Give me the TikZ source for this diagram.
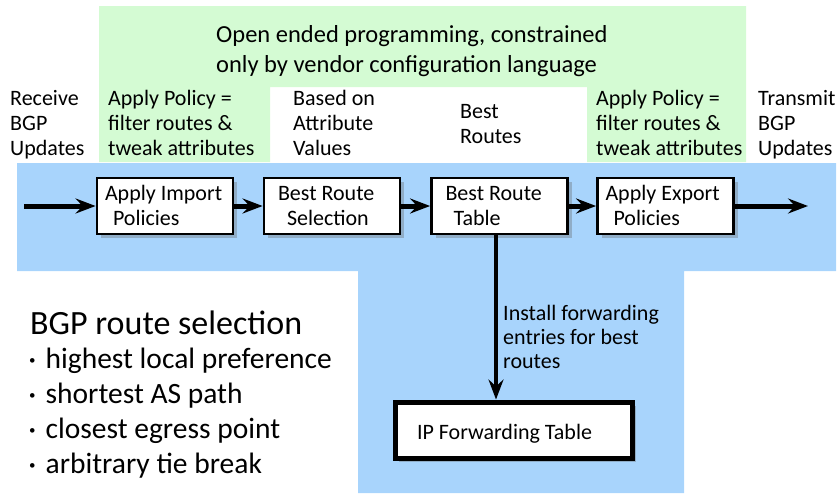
\documentclass[tikz,border=0pt]{standalone}
\usepackage{fontspec}
\setmainfont{Carlito}
\usetikzlibrary{arrows.meta,shadows}

\definecolor{polgreen}{RGB}{212,251,211}
\definecolor{flowblue}{RGB}{168,212,252}

% small bullet used in the criteria list
\newcommand{\critdot}{\raisebox{3.5pt}{\fontsize{13}{13}\selectfont •}\hspace{10pt}}

\begin{document}
\begin{tikzpicture}[x=1pt,y=-1pt,
  txt/.style={anchor=base west, align=left, inner sep=0pt,
              font=\fontsize{22}{25}\selectfont},
  stage/.style={draw, line width=2.8pt, fill=white,
                text width=120pt, inner xsep=8pt, align=flush left,
                minimum height=56pt, text height=17pt, text depth=28pt,
                font=\fontsize{22}{25}\selectfont,
                drop shadow={shadow xshift=4pt, shadow yshift=-4pt,
                             fill=black!60, opacity=0.35}},
  flow/.style={line width=5pt, -{Stealth[length=20pt,width=15pt,inset=7pt]}}
]
\useasboundingbox (0,0) rectangle (840,493);

% policy-programmable region
\fill[polgreen] (99,6) -- (746,6) -- (746,162) -- (587,162) -- (587,87)
  -- (270,87) -- (270,162) -- (99,162) -- cycle;
% router processing region
\fill[flowblue] (17,163) -- (836,163) -- (836,271) -- (684,271) -- (684,493)
  -- (358,493) -- (358,271) -- (17,271) -- cycle;

% labels above the pipeline (positioned by the baseline of their last line)
\node[txt, font=\fontsize{24.5}{30}\selectfont] (title) at (216,72)
  {Open ended programming, constrained\\only by vendor configuration language};
\node[txt] (recv) at (10,155) {Receive\\BGP\\Updates};
\node[txt] (pol1) at (108,155) {Apply Policy =\\filter routes \&\\tweak attributes};
\node[txt] (based) at (293,155) {Based on\\Attribute\\Values};
\node[txt] (best) at (460,143) {Best\\Routes};
\node[txt] (pol2) at (596,155) {Apply Policy =\\filter routes \&\\tweak attributes};
\node[txt] (xmit) at (758,155) {Transmit\\BGP\\Updates};

% pipeline stages
\node[stage] (imp) at (165,206) {Apply Import\\\hspace*{8pt}Policies};
\node[stage] (sel) at (332,206) {\hspace*{6pt}Best Route\\\hspace*{15pt}Selection};
\node[stage] (tab) at (499.5,206) {\hspace*{6pt}Best Route\\\hspace*{14pt}Table};
\node[stage] (exp) at (665.5,206) {Apply Export\\\hspace*{8pt}Policies};
\node[stage, line width=5pt, text width=193pt, inner xsep=22pt,
      text height=20pt, text depth=2pt] (ipf) at (513.5,430) {IP Forwarding Table};

\coordinate (in) at (24,206);
\coordinate (out) at (808,206);

\draw[flow] (in) -- (imp.west);
\draw[flow] (imp.east) -- (sel.west);
\draw[flow] (sel.east) -- (tab.west);
\draw[flow] (tab.east) -- (exp.west);
\draw[flow] (exp.east) -- (out);
\draw[flow, line width=4.5pt] ([xshift=-3.5pt]tab.south) -- ([xshift=-3.5pt]tab.south |- ipf.north);

\node[txt, font=\fontsize{22}{24}\selectfont] (inst) at (503,368)
  {Install forwarding\\entries for best\\routes};

% selection criteria
\node[txt, font=\fontsize{34}{40}\selectfont] (crit) at (30,334) {BGP route selection};
\node[txt, font=\fontsize{29.5}{35}\selectfont] (steps) at (29,473)
  {\critdot highest local preference\\
   \critdot shortest AS path\\
   \critdot closest egress point\\
   \critdot arbitrary tie break};
\end{tikzpicture}
\end{document}
